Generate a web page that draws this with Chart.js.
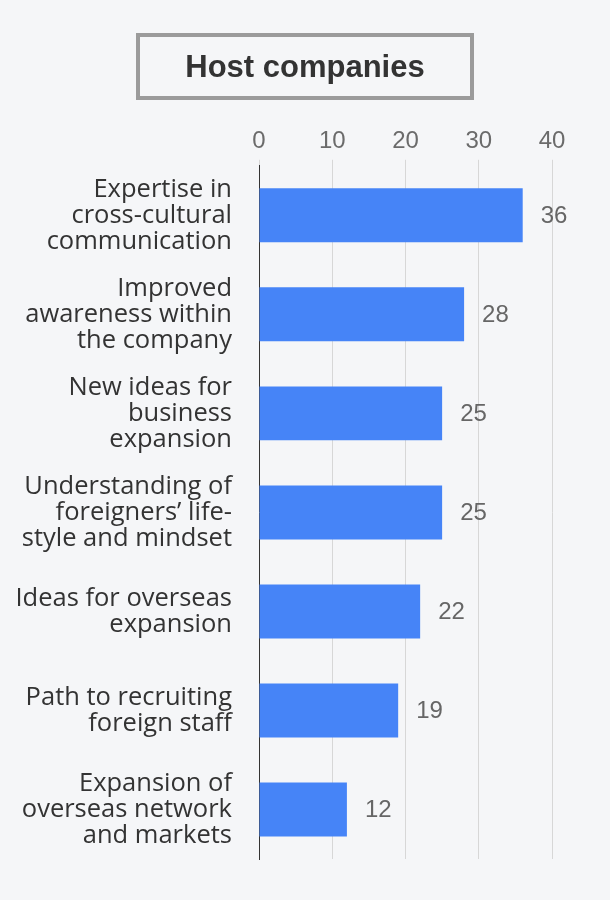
<!DOCTYPE html>
<html lang="en">
<head>
  <meta charset="UTF-8" />
  <title>Host companies</title>
  <script src="https://cdn.jsdelivr.net/npm/chart.js"></script>
  <style>
    * {
      box-sizing: border-box;
    }

    body {
      margin: 0;
      background: #f5f6f8;
      font-family: 'Open Sans', sans-serif;
    }

    .wrap {
      position: relative;
      width: 610px;
      height: 900px;
    }

    .title-box {
      position: absolute;
      left: 136px;
      top: 33px;
      width: 338px;
      height: 67px;
      border: 4px solid #9b9b9b;
      color: #333;
      font-family: 'Liberation Sans', sans-serif;
      font-weight: bold;
      font-size: 31px;
      display: flex;
      align-items: center;
      justify-content: center;
    }
  </style>
</head>
<body>
  <div class="wrap">
    <canvas id="hostChart" width="610" height="900"></canvas>
    <div class="title-box">Host companies</div>
  </div>

  <script>
    const categories = [
      ['Expertise in', 'cross-cultural', 'communication'],
      ['Improved', 'awareness within', 'the company'],
      ['New ideas for', 'business', 'expansion'],
      ['Understanding of', 'foreigners’ life-', 'style and mindset'],
      ['Ideas for overseas', 'expansion'],
      ['Path to recruiting', 'foreign staff'],
      ['Expansion of', 'overseas network', 'and markets']
    ];
    const values = [36, 28, 25, 25, 22, 19, 12];
    const xTicks = [0, 10, 20, 30, 40];

    // value numbers to the right of each bar
    const valueLabels = {
      id: 'valueLabels',
      afterDatasetsDraw(chart) {
        const ctx = chart.ctx;
        const meta = chart.getDatasetMeta(0);
        ctx.save();
        ctx.font = '24px "Liberation Sans", sans-serif';
        ctx.fillStyle = '#666';
        ctx.textAlign = 'left';
        ctx.textBaseline = 'middle';
        meta.data.forEach((bar, i) => {
          ctx.fillText(values[i], bar.x + 18, bar.y + 1);
        });
        ctx.restore();
      }
    };

    new Chart(document.getElementById('hostChart'), {
      type: 'bar',
      data: {
        labels: categories,
        datasets: [{
          data: values,
          backgroundColor: '#4684f7',
          barPercentage: 1,
          categoryPercentage: 0.545
        }]
      },
      options: {
        indexAxis: 'y',
        responsive: false,
        animation: false,
        layout: {
          padding: { top: 123, bottom: 41, left: 0, right: 58 }
        },
        plugins: {
          legend: { display: false },
          tooltip: { enabled: false }
        },
        scales: {
          x: {
            position: 'top',
            min: 0,
            max: 40,
            afterBuildTicks: s => { s.ticks = xTicks.map(v => ({ value: v })); },
            grid: { color: '#d7d7d7', tickLength: 6, tickColor: '#d7d7d7' },
            border: { display: false },
            ticks: {
              color: '#6b6b6b',
              padding: 4,
              font: { family: 'Liberation Sans', size: 24 }
            }
          },
          y: {
            afterFit: s => {
              s.width = 259;
              s.paddingTop = 0;
              s.paddingBottom = 0;
            },
            grid: { display: false, drawTicks: false },
            border: { display: true, color: '#333', width: 1 },
            ticks: {
              color: '#333',
              padding: 27,
              font: { family: 'Open Sans', size: 25.5, lineHeight: 1.02 }
            }
          }
        }
      },
      plugins: [valueLabels]
    });
  </script>
</body>
</html>
